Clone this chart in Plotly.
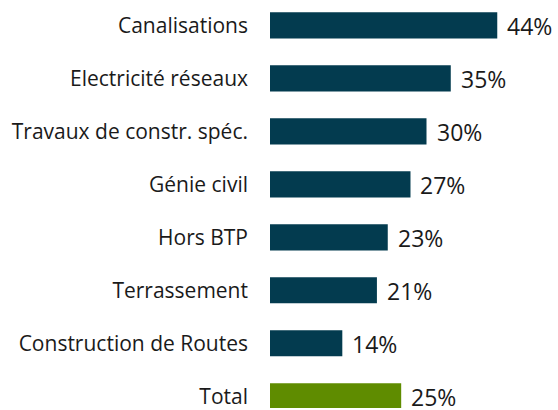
import plotly.graph_objects as go

categories = ["Canalisations", "Electricité réseaux", "Travaux de constr. spéc.",
              "Génie civil", "Hors BTP", "Terrassement", "Construction de Routes", "Total"]
values = [44.0, 35.0, 30.3, 27.2, 22.8, 20.7, 14.0, 25.4]
value_labels = ["44%", "35%", "30%", "27%", "23%", "21%", "14%", "25%"]
bar_colors = ["#033b4f"] * 7 + ["#5f8c00"]

fig = go.Figure(go.Bar(
    x=values, y=categories, orientation="h",
    marker=dict(color=bar_colors, line=dict(width=0)),
    width=0.494, hoverinfo="skip",
))

for cat, v, lab in zip(categories, values, value_labels):
    fig.add_annotation(x=v, y=cat, text=lab, showarrow=False, xanchor="left",
                       yanchor="middle", xshift=8, yshift=-1,
                       font=dict(family="Open Sans", size=23, color="#1a1a1a"))

fig.update_layout(
    width=558, height=410,
    margin=dict(l=270, r=0, t=0, b=0),
    paper_bgcolor="white", plot_bgcolor="white",
    showlegend=False,
    font=dict(family="Open Sans", size=21, color="#1a1a1a"),
    xaxis=dict(range=[0, 55.76], visible=False, fixedrange=True),
    yaxis=dict(type="category", categoryorder="array", categoryarray=categories,
               range=[7.222, -0.479], showgrid=False, zeroline=False,
               showline=False, ticks="", ticklabelstandoff=21, fixedrange=True,
               tickfont=dict(family="Open Sans", size=21, color="#1a1a1a")),
)

fig.write_html("out.html", config={"displayModeBar": False, "staticPlot": True},
               post_script="document.body.style.margin='0px';document.body.style.overflow='hidden';")
